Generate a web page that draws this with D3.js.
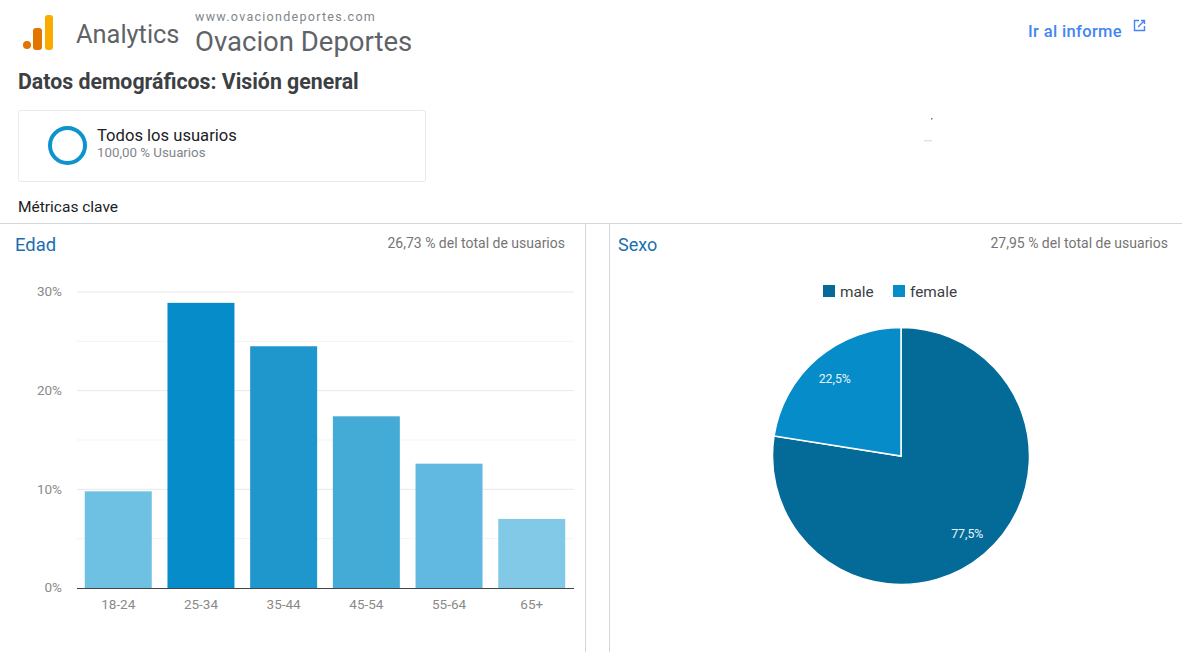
<!doctype html>
<html lang="en">

<head>
  <meta charset="utf-8">
  <title>Datos demográficos - D3</title>
  <style>
    html, body { margin: 0; padding: 0; background: #fff; }
    svg { display: block; font-family: Roboto, sans-serif; }
  </style>
</head>

<body>
  <svg width="1182" height="652"></svg>

  <script src="https://cdn.jsdelivr.net/npm/d3@7"></script>
  <script>
    var ageGroups = ['18-24', '25-34', '35-44', '45-54', '55-64', '65+'];
    var ageValues = [9.8, 28.9, 24.5, 17.4, 12.6, 7.0];
    var ageColors = ['#6fc1e3', '#068cc8', '#1f97cd', '#44abd7', '#61b8e0', '#82c9e8'];
    var yTicks = [0, 10, 20, 30];
    var yMinorTicks = [5, 15, 25];
    var sexLabels = ['male', 'female'];
    var sexValues = [77.5, 22.5];
    var sexLabelText = ['77,5%', '22,5%'];
    var sexColors = ['#046b99', '#068cc8'];

    var svg = d3.select('svg');

    function addText(x, y, str, size, fill, weight, anchor) {
      return svg.append('text')
        .attr('x', x).attr('y', y)
        .attr('font-size', size)
        .attr('fill', fill)
        .attr('font-weight', weight || 400)
        .attr('text-anchor', anchor || 'start')
        .text(str);
    }

    // cabecera
    var logo = svg.append('g');
    logo.append('circle').attr('cx', 27).attr('cy', 45).attr('r', 4).attr('fill', '#e37400');
    logo.append('rect').attr('x', 33).attr('y', 28).attr('width', 9).attr('height', 22).attr('rx', 3).attr('fill', '#e37400');
    logo.append('rect').attr('x', 45).attr('y', 15).attr('width', 8).attr('height', 35).attr('rx', 3).attr('fill', '#f9ab00');

    addText(76, 43, 'Analytics', 25.4, '#5f6368');
    addText(195, 21, 'www.ovaciondeportes.com', 12.5, '#80868b').attr('letter-spacing', 1.28);
    addText(195, 50.5, 'Ovacion Deportes', 27.5, '#5f6368');
    addText(18, 89, 'Datos demográficos: Visión general', 21.3, '#3c4043', 700);
    addText(1028, 36.5, 'Ir al informe', 16.5, '#4285f4', 500).attr('letter-spacing', 0.35);

    // icono del enlace
    var link = svg.append('g').attr('fill', 'none').attr('stroke', '#4285f4').attr('stroke-width', 1.4);
    link.append('path').attr('d', 'M1139 20.5 H1134.5 V30.5 H1144.5 V26');
    link.append('path').attr('d', 'M1138 27 L1144.5 20.5 M1141 20.5 H1144.5 V24');

    // tarjeta de segmento
    svg.append('rect')
      .attr('x', 18.5).attr('y', 110.5).attr('width', 407).attr('height', 71).attr('rx', 2)
      .attr('fill', '#fff').attr('stroke', '#e8eaed');
    svg.append('circle')
      .attr('cx', 67.5).attr('cy', 145.5).attr('r', 17.5)
      .attr('fill', 'none').attr('stroke', '#0d94cc').attr('stroke-width', 4);
    addText(97, 141, 'Todos los usuarios', 16.6, '#202124');
    addText(97, 157, '100,00 % Usuarios', 13.3, '#80868b');

    addText(18, 212, 'Métricas clave', 15.5, '#202124');

    // separadores
    svg.append('line').attr('x1', 0).attr('x2', 1182).attr('y1', 223.5).attr('y2', 223.5).attr('stroke', '#d5d7da');
    svg.append('line').attr('x1', 585.5).attr('x2', 585.5).attr('y1', 224).attr('y2', 652).attr('stroke', '#d5d7da');
    svg.append('line').attr('x1', 609.5).attr('x2', 609.5).attr('y1', 224).attr('y2', 652).attr('stroke', '#d5d7da');

    addText(15, 251, 'Edad', 18.4, '#1a6fb0');
    addText(565, 248, '26,73 % del total de usuarios', 14, '#757575', 400, 'end');
    addText(618, 251, 'Sexo', 18, '#1a6fb0');
    addText(1168, 248, '27,95 % del total de usuarios', 14, '#757575', 400, 'end');

    // barras por edad
    var x = d3.scaleBand().domain(ageGroups).range([76.5, 573.5]).paddingInner(0.19).paddingOuter(0.1);
    var y = d3.scaleLinear().domain([0, 30]).range([588, 292]);

    var grid = svg.append('g');
    grid.selectAll('line.major').data(yTicks.slice(1)).enter()
      .append('line').attr('class', 'major')
      .attr('x1', 77).attr('x2', 574)
      .attr('y1', function (d) { return y(d); })
      .attr('y2', function (d) { return y(d); })
      .attr('stroke', '#e8e8e8');
    grid.selectAll('line.minor').data(yMinorTicks).enter()
      .append('line').attr('class', 'minor')
      .attr('x1', 77).attr('x2', 574)
      .attr('y1', function (d) { return y(d); })
      .attr('y2', function (d) { return y(d); })
      .attr('stroke', '#f3f3f3');

    svg.selectAll('rect.bar').data(ageValues).enter()
      .append('rect').attr('class', 'bar')
      .attr('x', function (d, i) { return x(ageGroups[i]); })
      .attr('y', function (d) { return y(d); })
      .attr('width', x.bandwidth())
      .attr('height', function (d) { return y(0) - y(d); })
      .attr('fill', function (d, i) { return ageColors[i]; });

    var yAxis = svg.append('g')
      .attr('transform', 'translate(62,-0.5)')
      .call(d3.axisLeft(y).tickValues(yTicks).tickSize(0).tickFormat(function (d) { return d + '%'; }));
    yAxis.select('.domain').remove();
    yAxis.selectAll('text')
      .attr('x', 0)
      .attr('font-family', 'Roboto, sans-serif')
      .attr('font-size', 13.5)
      .attr('fill', '#8a8a8a');

    var xAxis = svg.append('g')
      .attr('transform', 'translate(0,588)')
      .call(d3.axisBottom(x).tickSize(0).tickPadding(11));
    xAxis.select('.domain').attr('stroke', '#444').attr('d', 'M77,0.5H574');
    xAxis.selectAll('text')
      .attr('font-family', 'Roboto, sans-serif')
      .attr('font-size', 13.5)
      .attr('fill', '#8a8a8a');

    // tarta por sexo
    var legend = svg.append('g').attr('transform', 'translate(823,285)');
    var legendX = [0, 70];
    legend.selectAll('rect').data(sexLabels).enter()
      .append('rect')
      .attr('x', function (d, i) { return legendX[i]; })
      .attr('width', 12).attr('height', 12)
      .attr('fill', function (d, i) { return sexColors[i]; });
    legend.selectAll('text').data(sexLabels).enter()
      .append('text')
      .attr('x', function (d, i) { return legendX[i] + 17; })
      .attr('y', 12)
      .attr('font-size', 15.4)
      .attr('fill', '#3c4043')
      .text(function (d) { return d; });

    var pie = d3.pie().sort(null);
    var arc = d3.arc().innerRadius(0).outerRadius(128.5);
    var labelArc = d3.arc().innerRadius(102).outerRadius(102);
    var g = svg.append('g').attr('transform', 'translate(901,456)');
    var slices = pie(sexValues);

    g.selectAll('path').data(slices).enter()
      .append('path')
      .attr('d', arc)
      .attr('fill', function (d, i) { return sexColors[i]; })
      .attr('stroke', '#fff')
      .attr('stroke-width', 1.5);

    g.selectAll('text').data(slices).enter()
      .append('text')
      .attr('transform', function (d) { return 'translate(' + labelArc.centroid(d) + ')'; })
      .attr('dy', '0.35em')
      .attr('text-anchor', 'middle')
      .attr('font-size', 12.3)
      .attr('fill', '#e8f4fa')
      .text(function (d, i) { return sexLabelText[i]; });

    // restos pequeños de la captura
    svg.append('rect').attr('x', 931).attr('y', 118).attr('width', 1.5).attr('height', 1.5).attr('fill', '#777');
    svg.append('rect').attr('x', 924).attr('y', 140).attr('width', 8).attr('height', 1.5).attr('fill', '#e4e4e4');
  </script>
</body>

</html>
